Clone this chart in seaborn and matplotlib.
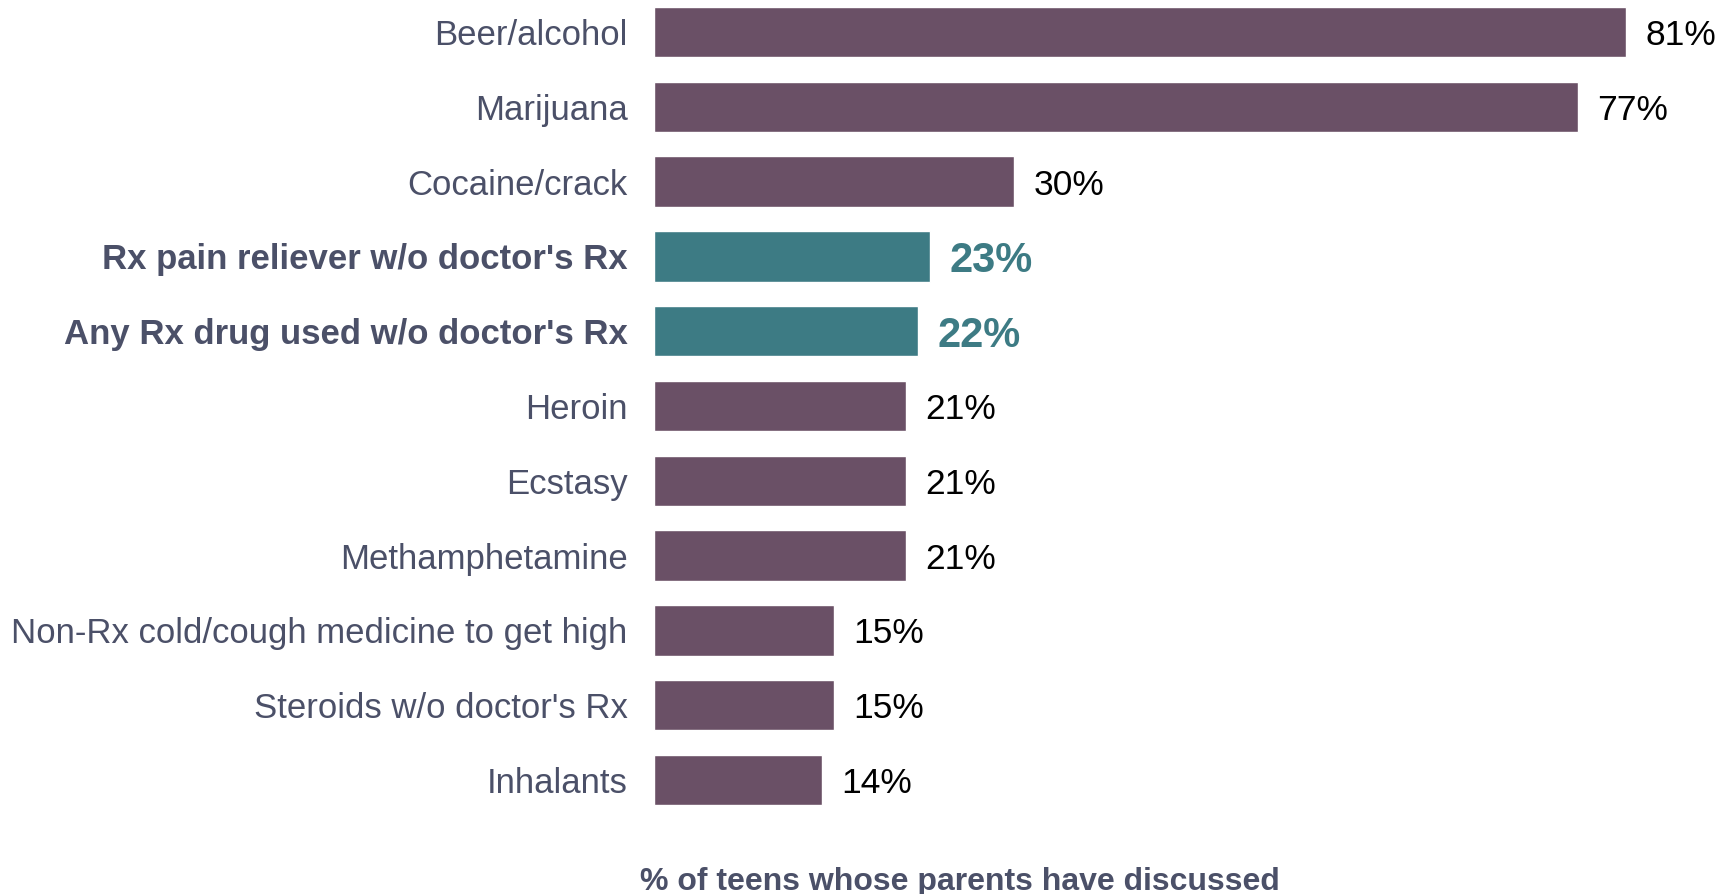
import matplotlib
matplotlib.use("Agg")
import matplotlib.pyplot as plt
import seaborn as sns
import pandas as pd

# Substances teens say their parents have discussed with them
categories = [
    "Beer/alcohol",
    "Marijuana",
    "Cocaine/crack",
    "Rx pain reliever w/o doctor's Rx",
    "Any Rx drug used w/o doctor's Rx",
    "Heroin",
    "Ecstasy",
    "Methamphetamine",
    "Non-Rx cold/cough medicine to get high",
    "Steroids w/o doctor's Rx",
    "Inhalants",
]
percent = [81, 77, 30, 23, 22, 21, 21, 21, 15, 15, 14]
highlighted = [
    "Rx pain reliever w/o doctor's Rx",
    "Any Rx drug used w/o doctor's Rx",
]
axis_title = "% of teens whose parents have discussed"

PURPLE = "#6a5066"
TEAL = "#3d7b84"
SLATE = "#4b5068"

sns.set_theme(style="white")
plt.rcParams["font.family"] = ["Liberation Sans", "DejaVu Sans"]

df = pd.DataFrame({"substance": categories, "pct": percent})
palette = {c: (TEAL if c in highlighted else PURPLE) for c in categories}

W, H = 1727, 894
fig = plt.figure(figsize=(W / 100, H / 100), dpi=100)
ax = fig.add_axes([654 / W, (H - 820) / H, (W - 654) / W, 820 / H])

sns.barplot(
    data=df, x="pct", y="substance", hue="substance", palette=palette,
    order=categories, hue_order=categories, width=0.675, legend=False,
    saturation=1, ax=ax,
)

ax.set_xlim(0, (W - 654) / 12)
ax.set_ylim(10.535, -0.428)

# value labels at the end of each bar
for i, (cat, v) in enumerate(zip(categories, percent)):
    hi = cat in highlighted
    ax.annotate(
        f"{v}%", xy=(v, i), xytext=(14, 0), textcoords="offset points",
        ha="left", va="center_baseline",
        fontsize=30 if hi else 25.5,
        fontweight="bold" if hi else "normal",
        color=TEAL if hi else "black",
    )

for s in ax.spines.values():
    s.set_visible(False)
ax.tick_params(axis="y", length=0, pad=19, labelsize=25, labelcolor=SLATE)
ax.tick_params(axis="x", length=0, labelbottom=False)
for lbl in ax.get_yticklabels():
    if lbl.get_text() in highlighted:
        lbl.set_fontweight("bold")

ax.set_ylabel("")
ax.set_xlabel(axis_title, fontsize=23, fontweight="bold", color=SLATE, va="center")
ax.xaxis.set_label_coords(0.2847, -0.076)

fig.savefig("out.png", dpi=100, facecolor="white")
